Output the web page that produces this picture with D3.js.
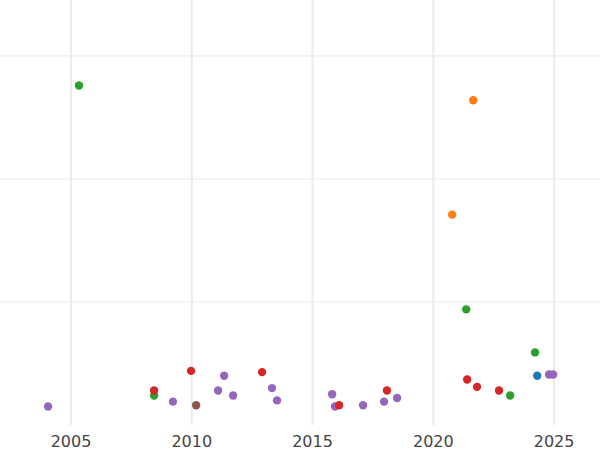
<!DOCTYPE html>
<html>
<head>
<meta charset="utf-8">
<script src="https://cdn.jsdelivr.net/npm/d3@7"></script>
<style>
body { margin: 0; background: #fff; }
text { font-family: "DejaVu Sans", sans-serif; }
</style>
</head>
<body>
<svg width="600" height="450"></svg>
<script>
const seriesColors = {
    green: "#2ca02c", orange: "#ff7f0e", red: "#d62728",
    purple: "#9467bd", brown: "#8c564b", blue: "#1f77b4"
}
const greenYears = [2005.33, 2008.44, 2021.36, 2024.21, 2023.18]
const greenValues = [2.76, 0.24, 0.94, 0.59, 0.24]
const orangeYears = [2021.65, 2020.78]
const orangeValues = [2.64, 1.71]
const redYears = [2008.44, 2009.97, 2012.91, 2016.10, 2018.08, 2021.40, 2021.81, 2022.72]
const redValues = [0.28, 0.44, 0.43, 0.16, 0.28, 0.37, 0.31, 0.28]
const purpleYears = [2004.05, 2009.22, 2011.09, 2011.34, 2011.71, 2013.32, 2013.53, 2015.81, 2015.93, 2017.09, 2017.96, 2018.50, 2024.79, 2024.96]
const purpleValues = [0.15, 0.19, 0.28, 0.40, 0.24, 0.30, 0.20, 0.25, 0.15, 0.16, 0.19, 0.22, 0.41, 0.41]
const brownYears = [2010.18]
const brownValues = [0.16]
const blueYears = [2024.30]
const blueValues = [0.40]
const xTicks = [2005, 2010, 2015, 2020, 2025]
const yTicks = [1, 2, 3]

const series = [
    ["green", greenYears, greenValues],
    ["orange", orangeYears, orangeValues],
    ["purple", purpleYears, purpleValues],
    ["red", redYears, redValues],
    ["brown", brownYears, brownValues],
    ["blue", blueYears, blueValues]
]

const svg = d3.select("svg")
const x = d3.scaleLinear().domain([2002.06, 2026.9]).range([0, 600])
const y = d3.scaleLinear().domain([0, 3.455]).range([425, 0])

svg.append("g")
    .selectAll("line.v")
    .data(xTicks)
    .enter()
    .append("line")
    .attr("x1", d => x(d)).attr("x2", d => x(d))
    .attr("y1", 0).attr("y2", 425)
    .attr("stroke", "#ebebeb").attr("stroke-width", 2)

svg.append("g")
    .selectAll("line.h")
    .data(yTicks)
    .enter()
    .append("line")
    .attr("x1", 0).attr("x2", 600)
    .attr("y1", d => y(d)).attr("y2", d => y(d))
    .attr("stroke", "#ebebeb").attr("stroke-width", 1.2)

svg.append("g")
    .selectAll("text")
    .data(xTicks)
    .enter()
    .append("text")
    .attr("x", d => x(d))
    .attr("y", 447)
    .attr("text-anchor", "middle")
    .attr("font-size", 16)
    .attr("fill", "#444")
    .text(d => d)

series.forEach(([name, xs, ys]) => {
    svg.append("g")
        .selectAll("circle")
        .data(xs.map((v, i) => [v, ys[i]]))
        .enter()
        .append("circle")
        .attr("cx", d => x(d[0]))
        .attr("cy", d => y(d[1]))
        .attr("r", 4.2)
        .attr("fill", seriesColors[name])
})
</script>
</body>
</html>
